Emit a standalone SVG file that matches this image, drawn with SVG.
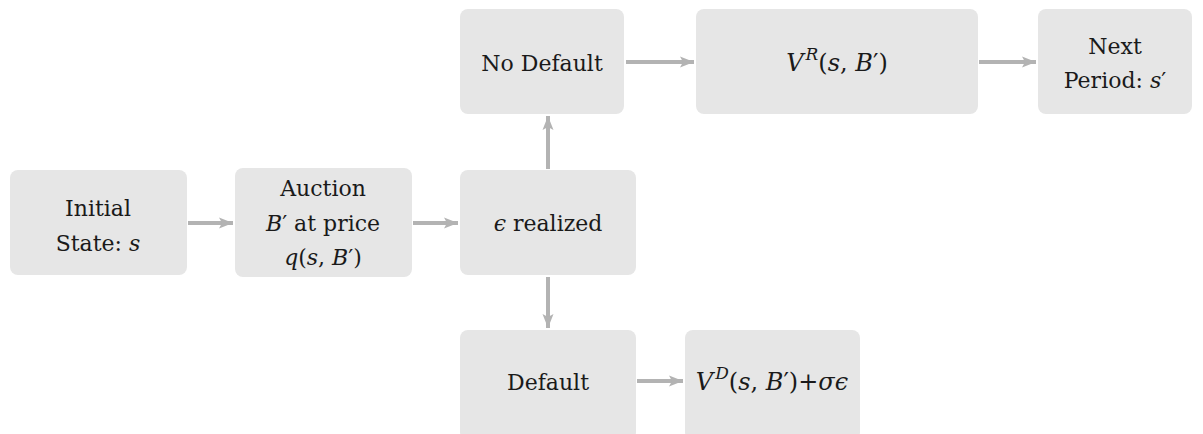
<svg xmlns="http://www.w3.org/2000/svg" width="1203" height="434" viewBox="0 0 1203 434">
<style>
.box{fill:#e6e6e6;}
.t{font-family:'DejaVu Serif','Liberation Serif',serif;font-size:22px;fill:#1a1a1a;text-anchor:middle;}
.m{font-size:24px;}
.i{font-style:italic;}
.sup{font-style:italic;font-size:17px;}
.c{stroke:#b3b3b3;stroke-width:4;fill:none;marker-end:url(#ah);}
</style>
<defs>
<marker id="ah" markerUnits="userSpaceOnUse" markerWidth="16" markerHeight="14" refX="14" refY="7" orient="auto">
<path d="M0,1.5 L14,7 L0,12.5 L3,7 Z" fill="#b3b3b3"/>
</marker>
</defs>
<g id="connectors">
<line class="c" x1="188" y1="223" x2="233" y2="223"/>
<line class="c" x1="413" y1="223" x2="458" y2="223"/>
<line class="c" x1="548" y1="169" x2="548" y2="116"/>
<line class="c" x1="548" y1="277" x2="548" y2="328"/>
<line class="c" x1="626" y1="62" x2="694" y2="62"/>
<line class="c" x1="979" y1="62" x2="1036" y2="62"/>
<line class="c" x1="637" y1="381" x2="683" y2="381"/>
</g>
<g id="initial">
<rect class="box" x="10" y="170" width="177" height="105" rx="8"/>
<text class="t" x="98" y="216">Initial</text>
<text class="t" x="98" y="251">State:  <tspan class="i">s</tspan></text>
</g>
<g id="auction">
<rect class="box" x="235" y="168" width="177" height="109" rx="8"/>
<text class="t" x="323" y="196">Auction</text>
<text class="t" x="323" y="231"><tspan class="i">B</tspan>′ at price</text>
<text class="t" x="323" y="265"><tspan class="i">q</tspan>(<tspan class="i">s</tspan>, <tspan class="i">B</tspan>′)</text>
</g>
<g id="realized">
<rect class="box" x="460" y="170" width="176" height="105" rx="8"/>
<text class="t" x="548" y="231"><tspan class="i">ϵ</tspan> realized</text>
</g>
<g id="nodefault">
<rect class="box" x="460" y="9" width="164" height="105" rx="8"/>
<text class="t" x="542" y="71">No Default</text>
</g>
<g id="vr">
<rect class="box" x="696" y="9" width="282" height="105" rx="8"/>
<text class="t m" x="837" y="71"><tspan class="i">V</tspan><tspan class="sup" dx="2" dy="-11">R</tspan><tspan dy="11">(</tspan><tspan class="i">s</tspan>, <tspan class="i">B</tspan>′)</text>
</g>
<g id="next">
<rect class="box" x="1038" y="9" width="154" height="105" rx="8"/>
<text class="t" x="1115" y="54">Next</text>
<text class="t" x="1115" y="88">Period:  <tspan class="i">s</tspan>′</text>
</g>
<g id="default">
<rect class="box" x="460" y="330" width="176" height="110" rx="8"/>
<text class="t" x="548" y="390">Default</text>
</g>
<g id="vd">
<rect class="box" x="685" y="330" width="175" height="110" rx="8"/>
<text class="t m" x="772" y="390"><tspan class="i">V</tspan><tspan class="sup" dx="2" dy="-11">D</tspan><tspan dy="11">(</tspan><tspan class="i">s</tspan>, <tspan class="i">B</tspan>′)+<tspan class="i">σϵ</tspan></text>
</g>
</svg>
